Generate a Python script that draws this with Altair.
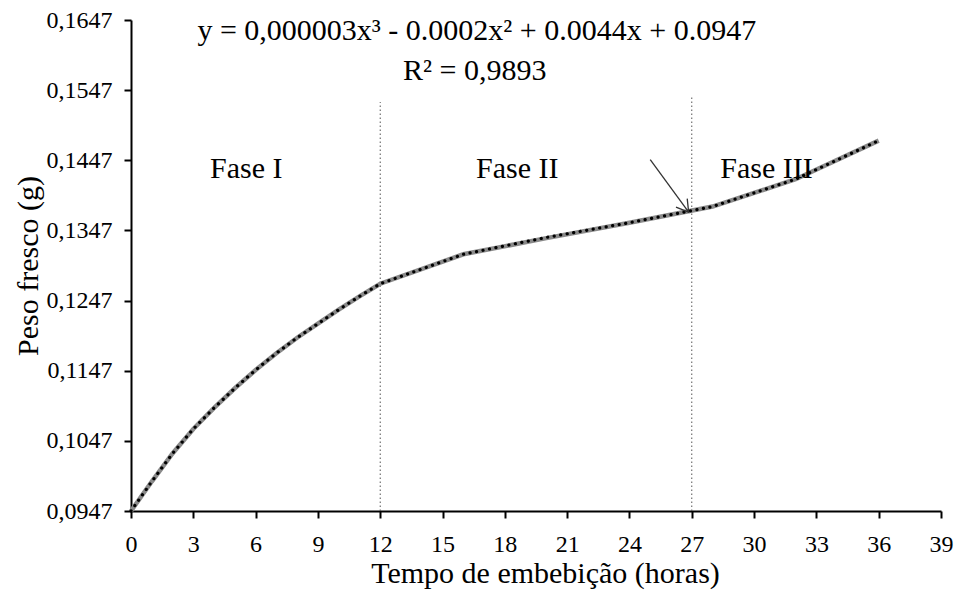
import altair as alt
import pandas as pd

# data
hours = [0, 1, 2, 3, 4, 5, 6, 7, 8, 9, 10, 11, 12, 16, 20, 24, 28, 32, 36]
peso = [0.0947, 0.0989, 0.1029, 0.1064, 0.1094, 0.1122, 0.1148, 0.1172, 0.1194, 0.1214,
        0.1234, 0.1253, 0.1271, 0.1313, 0.1336, 0.1358, 0.1381, 0.1420, 0.1475]
trend = [0.0947, 0.0989, 0.1029, 0.1064, 0.1094, 0.1122, 0.1148, 0.1172, 0.1194, 0.1214,
         0.1234, 0.1253, 0.1271, 0.1313, 0.1337, 0.1358, 0.1381, 0.1420, 0.1475]

x_ticks = list(range(0, 40, 3))
y_ticks = [0.0947, 0.1047, 0.1147, 0.1247, 0.1347, 0.1447, 0.1547, 0.1647]

phase_x = [12, 27]
phase_top = [0.1530, 0.1537]

labels = ["Fase I", "Fase II", "Fase III"]
label_x = [5.55, 18.6, 30.6]
label_y = [0.1434, 0.1434, 0.1434]

eq_text = ["y = 0,000003x³  - 0.0002x² + 0.0044x + 0.0947", "R² = 0,9893"]
eq_x = [16.65, 16.55]
eq_y = [0.1631, 0.1575]

arrow_from = (25.0, 0.1448)
arrow_to = (26.85, 0.1373)

FONT = "Liberation Serif"

df = pd.DataFrame({"x": hours, "y": peso})
df_t = pd.DataFrame({"x": hours, "y": trend})
df_v = pd.DataFrame({"x": phase_x, "y": [0.0947, 0.0947], "y2": phase_top})
df_l = pd.DataFrame({"x": label_x, "y": label_y, "t": labels})
df_e = pd.DataFrame({"x": eq_x, "y": eq_y, "t": eq_text})
df_a = pd.DataFrame({"x": [arrow_from[0]], "y": [arrow_from[1]],
                     "x2": [arrow_to[0]], "y2": [arrow_to[1]]})
df_h = pd.DataFrame({"x": [arrow_to[0]], "y": [arrow_to[1]]})

X = alt.X("x:Q", scale=alt.Scale(domain=[0, 39], nice=False, zero=False),
          axis=alt.Axis(values=x_ticks, title="Tempo de embebição (horas)", grid=False,
                        labelFlush=False, labelOverlap=False, titleX=414))
Y = alt.Y("y:Q", scale=alt.Scale(domain=[0.0947, 0.1647], nice=False, zero=False),
          axis=alt.Axis(values=y_ticks, title="Peso fresco (g)", grid=False,
                        labelExpr="replace(format(datum.value, '.4f'), '.', ',')"))

vlines = alt.Chart(df_v).mark_rule(color="#555555", strokeWidth=1, strokeDash=[1.5, 2.5]).encode(
    x=X, y=Y, y2="y2:Q")

gray = alt.Chart(df).mark_line(color="#8a8a8a", strokeWidth=4.5).encode(x=X, y=Y)
dots = alt.Chart(df_t).mark_line(color="#000000", strokeWidth=3.2, strokeDash=[0.1, 6.5],
                                 strokeCap="round").encode(x=X, y=Y)

shaft = alt.Chart(df_a).mark_rule(color="#333333", strokeWidth=1.3).encode(
    x=X, y=Y, x2="x2:Q", y2="y2:Q")
head = alt.Chart(df_h).mark_point(shape="M-0.6,-1L0,0L0.6,-1", size=550, angle=323,
                                  filled=False, color="#333333", strokeWidth=1.3,
                                  opacity=1).encode(x=X, y=Y)

fases = alt.Chart(df_l).mark_text(font=FONT, fontSize=30, color="#000000",
                                  align="center", baseline="middle").encode(x=X, y=Y, text="t:N")
eqs = alt.Chart(df_e).mark_text(font=FONT, fontSize=30, color="#000000",
                                align="center", baseline="middle").encode(x=X, y=Y, text="t:N")

chart = alt.layer(vlines, gray, dots, shaft, head, fases, eqs).properties(
    width=810, height=491,
    autosize=alt.AutoSizeParams(type="none"),
    padding={"left": 123, "top": 12, "right": 13, "bottom": 81},
    background="white",
).configure_view(stroke=None).configure_axis(
    domainColor="black", domainWidth=2, tickColor="black", tickWidth=2, tickSize=7,
    labelFont=FONT, labelFontSize=24, labelColor="black",
    titleFont=FONT, titleFontSize=30, titleColor="black", titleFontWeight="normal",
).configure_axisX(titlePadding=2, labelPadding=14).configure_axisY(titlePadding=3, labelPadding=12)

chart.save("out.html", embed_options={"renderer": "svg", "actions": False})
